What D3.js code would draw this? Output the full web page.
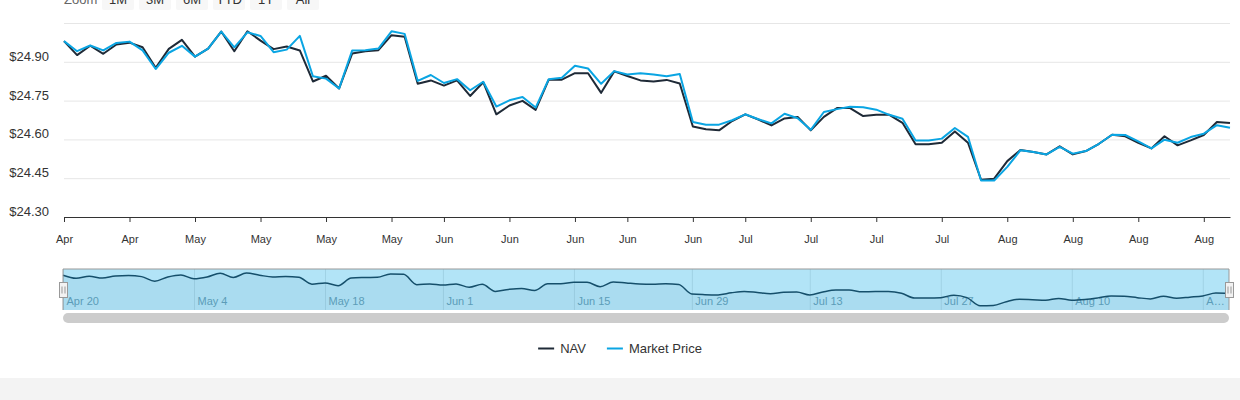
<!DOCTYPE html>
<html>
<head>
<meta charset="utf-8">
<script src="https://cdn.jsdelivr.net/npm/d3@7"></script>
<style>
body{margin:0;background:#fff;}
svg{display:block;font-family:"Liberation Sans",Arial,sans-serif;}
</style>
</head>
<body>
<svg id="chart" width="1240" height="400"></svg>
<script>
// trading days shown on the (ordinal) x axis
var tradeDates = [
	"2026-04-20","2026-04-21","2026-04-22","2026-04-23","2026-04-24","2026-04-27","2026-04-28","2026-04-29","2026-04-30",
	"2026-05-01","2026-05-04","2026-05-05","2026-05-06","2026-05-07","2026-05-08","2026-05-11","2026-05-12","2026-05-13","2026-05-14","2026-05-15",
	"2026-05-18","2026-05-19","2026-05-20","2026-05-21","2026-05-22","2026-05-26","2026-05-27","2026-05-28","2026-05-29",
	"2026-06-01","2026-06-02","2026-06-03","2026-06-04","2026-06-05","2026-06-08","2026-06-09","2026-06-10","2026-06-11","2026-06-12",
	"2026-06-15","2026-06-16","2026-06-17","2026-06-18","2026-06-22","2026-06-23","2026-06-24","2026-06-25","2026-06-26","2026-06-29","2026-06-30",
	"2026-07-01","2026-07-02","2026-07-06","2026-07-07","2026-07-08","2026-07-09","2026-07-10","2026-07-13","2026-07-14","2026-07-15","2026-07-16","2026-07-17",
	"2026-07-20","2026-07-21","2026-07-22","2026-07-23","2026-07-24","2026-07-27","2026-07-28","2026-07-29","2026-07-30","2026-07-31",
	"2026-08-03","2026-08-04","2026-08-05","2026-08-06","2026-08-07","2026-08-10","2026-08-11","2026-08-12","2026-08-13","2026-08-14",
	"2026-08-17","2026-08-18","2026-08-19","2026-08-20","2026-08-21","2026-08-24","2026-08-25","2026-08-26"
];
var navValues = [
	24.980,24.926,24.962,24.931,24.967,24.974,24.956,24.877,24.950,24.985,
	24.920,24.951,25.017,24.941,25.018,24.982,24.949,24.959,24.944,24.824,
	24.846,24.797,24.932,24.941,24.945,25.003,24.997,24.815,24.828,24.808,
	24.828,24.768,24.821,24.697,24.731,24.749,24.714,24.831,24.831,24.856,
	24.856,24.780,24.863,24.845,24.828,24.824,24.830,24.816,24.650,24.639,
	24.635,24.671,24.697,24.677,24.654,24.681,24.687,24.635,24.687,24.721,
	24.721,24.690,24.695,24.695,24.664,24.581,24.581,24.587,24.631,24.587,
	24.444,24.448,24.516,24.559,24.551,24.542,24.573,24.542,24.555,24.583,
	24.618,24.612,24.587,24.565,24.612,24.577,24.596,24.617,24.667,24.663
];
var marketValues = [
	24.980,24.941,24.963,24.944,24.973,24.978,24.944,24.872,24.935,24.962,
	24.920,24.951,25.017,24.956,25.014,25.000,24.937,24.947,25.000,24.844,
	24.835,24.797,24.944,24.945,24.951,25.018,25.008,24.826,24.849,24.818,
	24.833,24.790,24.823,24.727,24.751,24.764,24.723,24.833,24.838,24.885,
	24.874,24.815,24.864,24.851,24.856,24.851,24.844,24.853,24.667,24.657,
	24.657,24.674,24.697,24.678,24.662,24.699,24.682,24.637,24.706,24.717,
	24.726,24.724,24.715,24.695,24.680,24.596,24.596,24.603,24.644,24.610,
	24.441,24.441,24.494,24.558,24.551,24.542,24.571,24.545,24.555,24.583,
	24.618,24.617,24.592,24.565,24.599,24.587,24.609,24.622,24.655,24.645
];
var yTicks = [24.30, 24.45, 24.60, 24.75, 24.90, 25.05];
var yTickLabels = ["$24.30", "$24.45", "$24.60", "$24.75", "$24.90", ""];
var zoomButtons = ["1M", "3M", "6M", "YTD", "1Y", "All"];
var seriesNames = ["NAV", "Market Price"];
var seriesColors = ["#1f2a37", "#0aa5e3"];

var svg = d3.select("#chart");
var parse = d3.timeParse("%Y-%m-%d");
var dates = tradeDates.map(parse);
var n = dates.length;

// first trading day of each week
var weekTicks = [];
dates.forEach(function(d, i){
	if(i == 0 || +d3.timeMonday.floor(d) != +d3.timeMonday.floor(dates[i-1])){
		weekTicks.push(i);
	}
});
var navTicks = weekTicks.filter(function(d, i){ return i % 2 == 0; });

var pLeft = 64, pRight = 1230, pTop = 23, pBottom = 217;
var x = d3.scaleLinear().domain([0, n-1]).range([pLeft, pRight]);
var y = d3.scaleLinear().domain([24.30, 25.05]).range([pBottom, pTop]);

// range selector, mostly cut off at the top
var rs = svg.append("g");
rs.append("text").attr("x", 64).attr("y", 4).attr("fill", "#666").style("font-size", "13px").text("Zoom");
zoomButtons.forEach(function(b, i){
	var bx = 102 + i*37;
	rs.append("rect").attr("x", bx).attr("y", -12).attr("width", 32).attr("height", 22)
		.attr("rx", 2).attr("fill", "#f7f7f7");
	rs.append("text").attr("x", bx+16).attr("y", 4).attr("text-anchor", "middle")
		.attr("fill", "#333").style("font-size", "13px").text(b);
});

// grid + y labels
var yAxis = d3.axisLeft(y).tickValues(yTicks).tickSize(-(pRight-pLeft)).tickPadding(15)
	.tickFormat(function(d, i){ return yTickLabels[i]; });
var gy = svg.append("g").attr("transform", "translate(" + pLeft + ",0)").call(yAxis);
gy.select(".domain").remove();
gy.selectAll(".tick line").attr("stroke", "#e6e6e6");
gy.selectAll(".tick text").attr("dy", -1.5).attr("fill", "#333").style("font-size", "13px");

// x axis
var xAxis = d3.axisBottom(x).tickValues(weekTicks).tickSize(5).tickSizeOuter(0)
	.tickFormat(function(i){ return d3.timeFormat("%b")(dates[i]); });
var gx = svg.append("g").attr("transform", "translate(0," + pBottom + ")").call(xAxis);
gx.select(".domain").attr("stroke", "#333");
gx.selectAll(".tick line").attr("stroke", "#333");
gx.selectAll(".tick text").attr("y", 26).attr("dy", 0).attr("fill", "#333")
	.style("font-family", "'Liberation Sans',Arial,sans-serif").style("font-size", "11px");

// series
var line = d3.line().x(function(d, i){ return x(i); }).y(function(d){ return y(d); });
[navValues, marketValues].forEach(function(vals, k){
	svg.append("path").datum(vals).attr("d", line).attr("fill", "none")
		.attr("stroke", seriesColors[k]).attr("stroke-width", 2).attr("stroke-linejoin", "round");
});

// navigator
var nTop = 269, nBottom = 310, nLeft = 63, nRight = 1229;
var nx = d3.scaleLinear().domain([0, n-1]).range([nLeft, nRight]);
var ny = d3.scaleLinear().domain([24.37, 25.09]).range([nBottom, nTop]);
var nav = svg.append("g");
var navAxis = d3.axisBottom(nx).tickValues(navTicks).tickSize(-(nBottom-nTop)).tickSizeOuter(0)
	.tickFormat(function(i){ return d3.timeFormat("%b %-d")(dates[i]); });
var gn = nav.append("g").attr("transform", "translate(0," + nBottom + ")").call(navAxis);
gn.select(".domain").remove();
gn.selectAll(".tick line").attr("stroke", "#e6e6e6");
gn.selectAll(".tick text").attr("x", 3).attr("y", -5).attr("dy", 0).attr("text-anchor", "start")
	.attr("fill", "#8aa0ab").style("font-size", "11px").style("font-family", "'Liberation Sans',Arial,sans-serif");
// shorten the last label if it runs past the end
gn.selectAll(".tick text").each(function(i){
	var t = d3.select(this);
	var room = nRight - nx(i) - 6;
	var s = t.text();
	while(this.getComputedTextLength() > room && s.length > 1){
		s = s.slice(0, -1);
		t.text(s + "\u2026");
	}
});
var nArea = d3.area().curve(d3.curveMonotoneX).x(function(d, i){ return nx(i); })
	.y0(nBottom).y1(function(d){ return ny(d); });
nav.append("path").datum(navValues).attr("d", nArea).attr("fill", seriesColors[0]).attr("fill-opacity", 0.05);
nav.append("path").datum(navValues).attr("d", nArea.lineY1()).attr("fill", "none")
	.attr("stroke", seriesColors[0]).attr("stroke-width", 1.5);
nav.append("rect").attr("x", nLeft).attr("y", nTop).attr("width", nRight-nLeft).attr("height", nBottom-nTop)
	.attr("fill", "rgba(0,165,227,0.3)");
nav.append("path").attr("d", "M" + nLeft + "," + nBottom + "V" + nTop + "H" + nRight + "V" + nBottom)
	.attr("fill", "none").attr("stroke", "#999");
[nLeft, nRight].forEach(function(hx){
	var h = nav.append("g").attr("transform", "translate(" + (Math.round(hx)+0.5) + ",282.5)");
	h.append("rect").attr("x", -4).attr("y", 0).attr("width", 8).attr("height", 15)
		.attr("fill", "#f2f2f2").attr("stroke", "#999");
	h.append("path").attr("d", "M-1.5,4V11M1.5,4V11").attr("stroke", "#999");
});
// scrollbar
svg.append("rect").attr("x", nLeft).attr("y", 313).attr("width", nRight-nLeft).attr("height", 10)
	.attr("rx", 5).attr("fill", "#cccccc");

// legend
var lg = svg.append("g");
var items = seriesNames.map(function(name, k){
	var g = lg.append("g");
	g.append("line").attr("x1", 0).attr("x2", 16).attr("y1", 348.5).attr("y2", 348.5)
		.attr("stroke", seriesColors[k]).attr("stroke-width", 2);
	var t = g.append("text").attr("x", 22).attr("y", 353).attr("fill", "#333")
		.style("font-size", "13px").text(name);
	return {g: g, w: 22 + t.node().getComputedTextLength()};
});
var total = d3.sum(items, function(d){ return d.w; }) + 21*(items.length-1);
var lx = 620 - total/2;
items.forEach(function(it){
	it.g.attr("transform", "translate(" + lx + ",0)");
	lx += it.w + 21;
});

// grey strip at the bottom of the page
svg.append("rect").attr("x", 0).attr("y", 378).attr("width", 1240).attr("height", 22).attr("fill", "#f3f3f3");
</script>
</body>
</html>
